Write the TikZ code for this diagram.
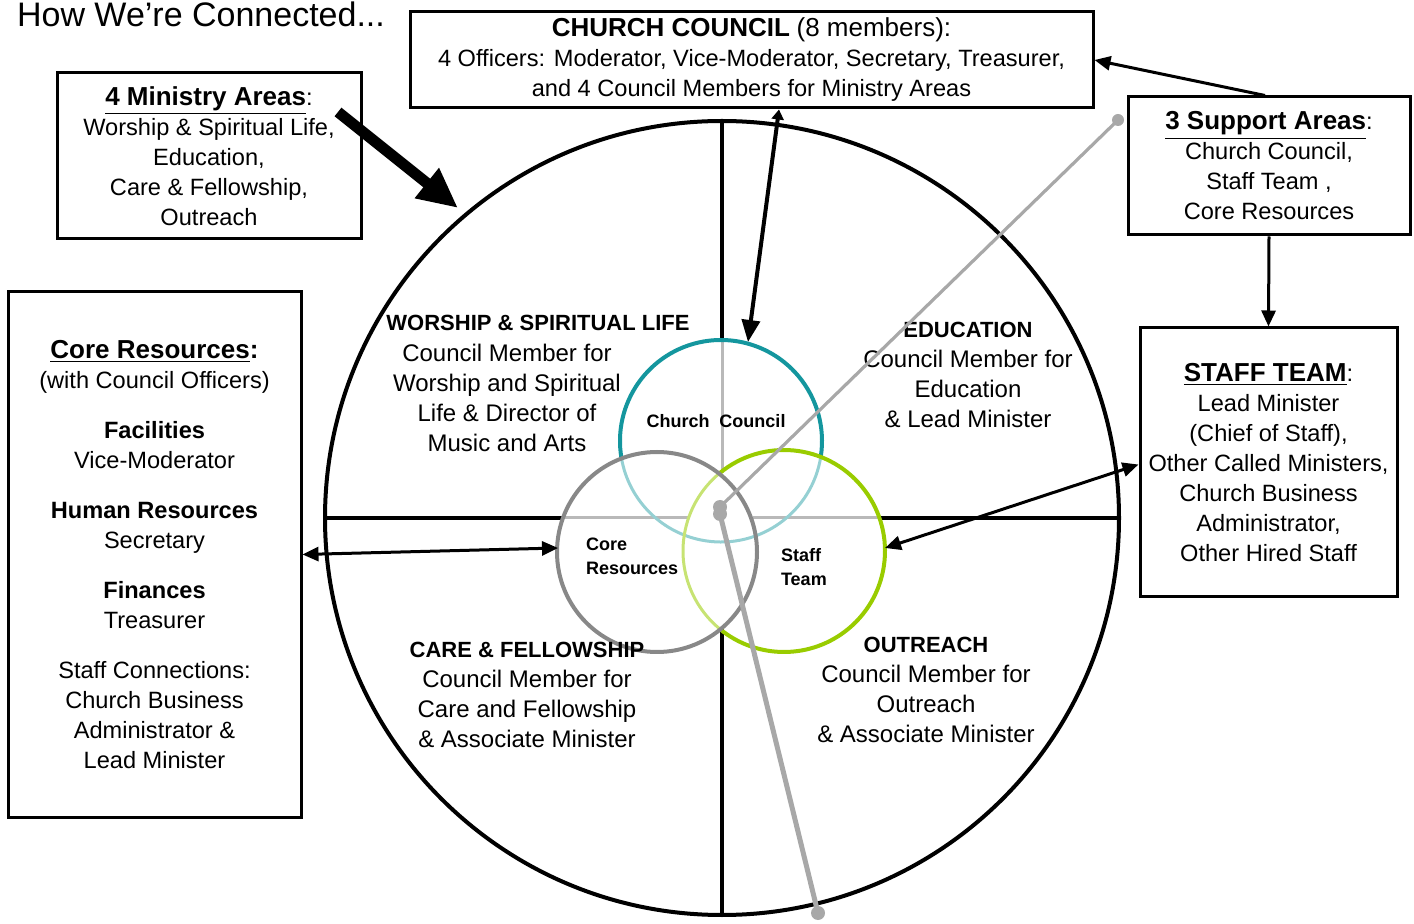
\documentclass[tikz,border=0pt]{standalone}
\usepackage{fontspec}
\setmainfont{Liberation Sans}
\usetikzlibrary{arrows.meta}

\definecolor{ccteal}{RGB}{20,150,158}
\definecolor{ccgreen}{RGB}{153,204,0}
\definecolor{ccgray}{RGB}{136,136,136}
\definecolor{pincol}{RGB}{168,168,168}

\newcommand{\bodyfnt}{\fontsize{11.8}{15}\selectfont}
\newcommand{\headfnt}{\fontsize{13}{15}\selectfont\bfseries}
\newcommand{\areafnt}{\fontsize{12}{15}\selectfont}
\newcommand{\hd}[1]{{\headfnt\underline{#1}}}

\begin{document}
\begin{tikzpicture}[x=0.5pt, y=-0.5pt,
    box/.style={draw, line width=1.5pt, align=center, inner sep=0pt, font=\bodyfnt},
    area/.style={align=center, font=\areafnt},
    small/.style={align=left, font=\fontsize{9}{12}\selectfont\bfseries},
    conn/.style={line width=1.5pt, -{Triangle[length=8pt,width=7pt]}},
    both/.style={line width=1.5pt, {Triangle[length=8pt,width=7pt]}-{Triangle[length=8pt,width=7pt]}},
    faint/.style={line width=1.5pt, gray!55},
    pin/.style={pincol, line width=1.6pt, line cap=round}]
    \useasboundingbox (0,0) rectangle (1414,924);

    % title
    \node[anchor=base west, font=\fontsize{17}{20}\selectfont] (title) at (10,27) {How We're Connected...};

    % the big circle and its cross
    \coordinate (mid) at (722,518);
    \draw[line width=2pt] (mid) circle[radius=397];
    \draw[line width=2pt] (722,121) -- (722,340);
    \draw[line width=2pt] (722,629) -- (722,915);
    \draw[line width=2pt] (325,518) -- (563,518);
    \draw[line width=2pt] (880,518) -- (1119,518);
    \draw[faint] (722,340) -- (722,473);
    \draw[faint] (563,518) -- (688,518);
    \draw[faint] (753,518) -- (880,518);

    % the three support circles
    \coordinate (cc) at (721,441);
    \coordinate (cr) at (657,552);
    \coordinate (st) at (784,551);
    \draw[ccteal!45, line width=1.5pt] (cc) ++(9:101) arc[start angle=9, end angle=170, radius=101];
    \draw[ccgreen!55, line width=1.5pt] (st) ++(129.4:101) arc[start angle=129.4, end angle=230.3, radius=101];
    \draw[ccteal, line width=2pt] (cc) ++(170:101) arc[start angle=170, end angle=369, radius=101];
    \draw[ccgreen, line width=2pt] (st) ++(230.3:101) arc[start angle=230.3, end angle=489.4, radius=101];
    \draw[ccgray, line width=2pt] (cr) circle[radius=100];

    \node[font=\fontsize{9}{12}\selectfont\bfseries] (ccname) at (716,421) {Church\hspace{5pt}Council};
    \node[small, anchor=west] (crname) at (579,556) {Core\\Resources};
    \node[small, anchor=west] (stname) at (774,567) {Staff\\Team};

    % the four ministry areas
    \node[area, font=\fontsize{11}{15}\selectfont\bfseries] (worhead) at (538,323) {WORSHIP \& SPIRITUAL LIFE};
    \node[area] (wor) at (507,398) {Council Member for\\Worship and Spiritual\\Life \& Director of\\Music and Arts};
    \node[area] (edu) at (968,375) {{\fontsize{11}{15}\selectfont\bfseries EDUCATION}\\Council Member for\\Education\\\& Lead Minister};
    \node[area] (care) at (527,695) {{\fontsize{11}{15}\selectfont\bfseries CARE \& FELLOWSHIP}\\Council Member for\\Care and Fellowship\\\& Associate Minister};
    \node[area] (out) at (926,690) {{\fontsize{11}{15}\selectfont\bfseries OUTREACH}\\Council Member for\\Outreach\\\& Associate Minister};

    % boxes round the circle
    \node[box, minimum width=152pt, minimum height=83pt] (ministry) at (209,156)
        {\hd{4 Ministry Areas}:\\Worship \& Spiritual Life,\\Education,\\Care \& Fellowship,\\Outreach};
    \node[box, minimum width=341.5pt, minimum height=48pt] (council) at (751.5,60)
        {{\headfnt CHURCH COUNCIL} {\fontsize{13}{15}\selectfont(8 members):}\\4 Officers: Moderator, Vice-Moderator, Secretary, Treasurer,\\and 4 Council Members for Ministry Areas};
    \node[box, minimum width=141pt, minimum height=69pt] (support) at (1269,166)
        {\hd{3 Support Areas}:\\Church Council,\\Staff Team ,\\Core Resources};
    \node[box, minimum width=128.5pt, minimum height=134.5pt] (staff) at (1268.5,462.5)
        {\hd{STAFF TEAM}:\\Lead Minister\\(Chief of Staff),\\Other Called Ministers,\\Church Business\\Administrator,\\Other Hired Staff};
    \node[box, minimum width=146.5pt, minimum height=262.5pt] (core) at (154.5,554.5)
        {{\headfnt\underline{Core Resources}:}\\(with Council Officers)\\[10pt]
         \textbf{Facilities}\\Vice-Moderator\\[10pt]
         \textbf{Human Resources}\\Secretary\\[10pt]
         \textbf{Finances}\\Treasurer\\[10pt]
         Staff Connections:\\Church Business\\Administrator \&\\Lead Minister};

    % connectors
    \coordinate (minA) at (338,112);
    \coordinate (minB) at (458,208);
    \draw[line width=5.5pt, -{Triangle[length=20pt,width=18pt]}] (minA) -- (minB);
    \coordinate (ccTop) at (748,342);
    \draw[line width=2pt, {Triangle[length=5pt,width=6pt]}-{Triangle[length=11pt,width=9pt]}] ([xshift=13.75pt]council.south) -- (ccTop);
    \draw[conn] ([xshift=-2pt]support.north) -- (council.east);
    \draw[conn] (support.south) -- (staff.north);
    \coordinate (stE) at (885,548);
    \draw[both] (stE) -- ([yshift=-1pt]staff.west);
    \coordinate (crW) at (558,548);
    \draw[both] (core.east) -- (crW);

    % the pointer
    \coordinate (pinA) at (1118,120);
    \coordinate (pinB) at (720,507);
    \coordinate (pinC) at (720,514);
    \coordinate (pinD) at (818,913);
    \draw[pin] (pinA) -- (pinB);
    \draw[pin, line width=2.5pt] (pinC) -- (pinD);
    \fill[pincol] (pinA) circle[radius=6];
    \fill[pincol] (pinB) circle[radius=7];
    \fill[pincol] (pinC) circle[radius=7];
    \fill[pincol] (pinD) circle[radius=7];
\end{tikzpicture}
\end{document}
